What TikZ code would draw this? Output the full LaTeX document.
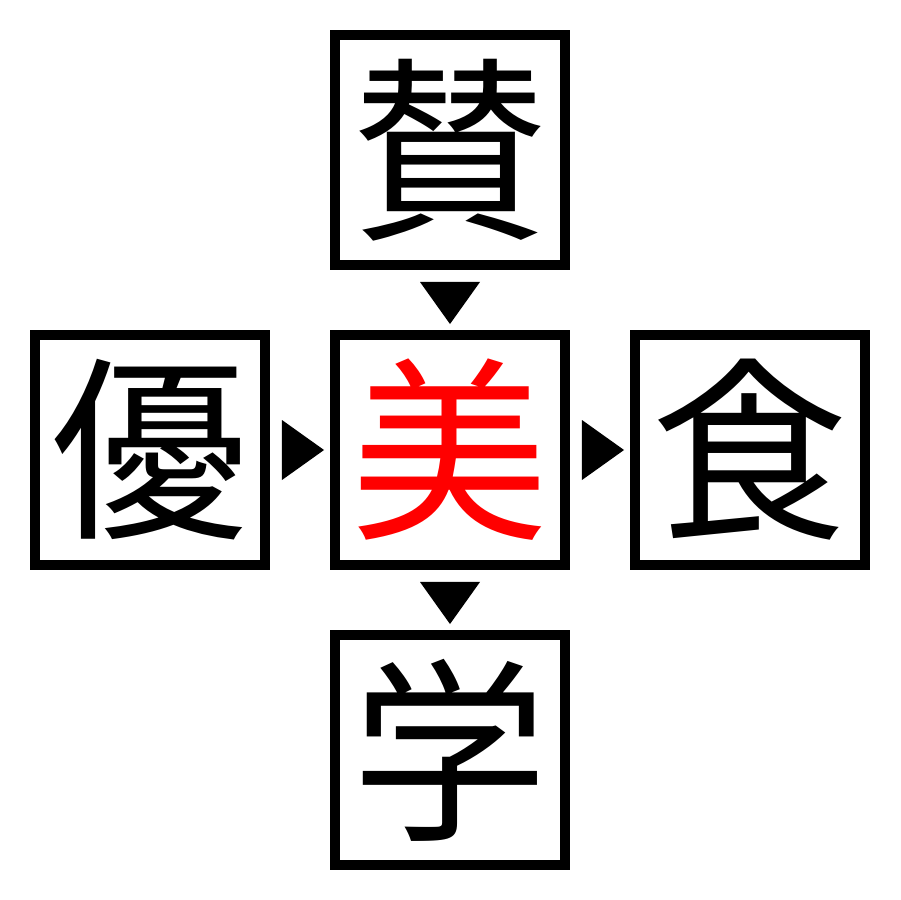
\documentclass[tikz,border=0pt]{standalone}
\usepackage{fontspec}
\newfontfamily\cjk{Noto Sans CJK JP}
\usetikzlibrary{calc}
\begin{document}
\begin{tikzpicture}[x=0.02cm,y=-0.02cm,
  kbox/.style={draw=black,line width=0.2cm,minimum size=4.6cm,inner sep=0pt,outer sep=0.1cm,
    font=\cjk\fontsize{112}{112}\selectfont},
  tri/.style={fill=black}]
\useasboundingbox (0,0) rectangle (900,900);
\node[kbox] (top) at (450,150) {賛};
\node[kbox] (left) at (150,450) {優};
\node[kbox,text=red] (mid) at (450,450) {美};
\node[kbox] (right) at (750,450) {食};
\node[kbox] (bot) at (450,750) {学};
% down arrow top -> mid
\fill[tri] ($(top.south)+(-30,12)$) -- ($(top.south)+(30,12)$) -- ($(mid.north)+(0,-6)$) -- cycle;
% right arrow left -> mid
\fill[tri] ($(left.east)+(12,-30)$) -- ($(left.east)+(12,30)$) -- ($(mid.west)+(-6,0)$) -- cycle;
% right arrow mid -> right
\fill[tri] ($(mid.east)+(12,-30)$) -- ($(mid.east)+(12,30)$) -- ($(right.west)+(-6,0)$) -- cycle;
% down arrow mid -> bot
\fill[tri] ($(mid.south)+(-30,12)$) -- ($(mid.south)+(30,12)$) -- ($(bot.north)+(0,-6)$) -- cycle;
\end{tikzpicture}
\end{document}
